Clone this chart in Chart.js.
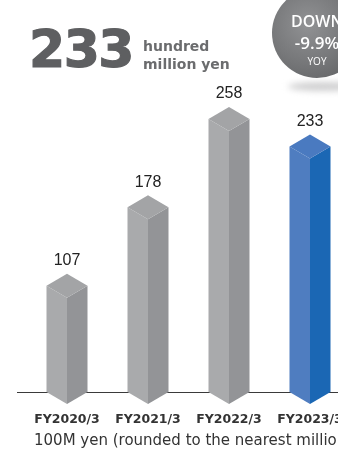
<!DOCTYPE html>
<html>
<head>
<meta charset="utf-8">
<script src="https://cdn.jsdelivr.net/npm/chart.js@4.4.0/dist/chart.umd.min.js"></script>
<style>
  html, body { margin: 0; padding: 0; background: #fff; }
  body { width: 338px; height: 452px; overflow: hidden; position: relative; }
  #wrap { position: absolute; left: 0; top: 0; width: 380px; height: 452px; }
  .big { position: absolute; left: 29px; top: 19px; font: bold 52px "DejaVu Sans", sans-serif; color: #5e5f61; letter-spacing: -1.5px; -webkit-text-stroke: 1.2px #5e5f61; }
  .unit { position: absolute; left: 143px; top: 37px; font: bold 14px "DejaVu Sans", sans-serif; color: #6b6c6e; line-height: 18px; }
  .badge { position: absolute; left: 272px; top: -12px; width: 90px; height: 90px; border-radius: 50%;
    background: radial-gradient(circle at 40% 40%, #919294 0%, #77787a 50%, #5a5b5d 100%); color: #fff; }
  .badge div { position: absolute; left: 0; width: 90px; text-align: center; font-family: "Open Sans", sans-serif; font-weight: 600; }
  .shadow { position: absolute; left: 288px; top: 82px; width: 70px; height: 9px; border-radius: 50%; background: #d0d0d1; filter: blur(3px); }
  .note { position: absolute; left: 34px; top: 431px; white-space: nowrap; font: 15px "DejaVu Sans", sans-serif; color: #333; }
</style>
</head>
<body>
<div id="wrap"><canvas id="chart" width="380" height="452"></canvas></div>
<div class="big">233</div>
<div class="unit">hundred<br>million yen</div>
<div class="shadow"></div>
<div class="badge">
  <div style="top:22px;font-size:16px;">DOWN</div>
  <div style="top:43px;font-size:17px;">-9.9%</div>
  <div style="top:66px;font-size:10px;font-weight:400;">YOY</div>
</div>
<div class="note">100M yen (rounded to the nearest million yen)</div>
<script>
const categories = ['FY2020/3', 'FY2021/3', 'FY2022/3', 'FY2023/3'];
const sales = [107, 178, 258, 233];

const grayFaces = { top: '#a3a4a6', left: '#a9aaac', right: '#939497' };
const blueFaces = { top: '#4a7ac0', left: '#4f7dc0', right: '#1b67b4' };

function poly(ctx, pts, color) {
    ctx.beginPath();
    ctx.moveTo(pts[0][0], pts[0][1]);
    for (let i = 1; i < pts.length; i++) ctx.lineTo(pts[i][0], pts[i][1]);
    ctx.closePath();
    ctx.fillStyle = color;
    ctx.fill();
}

// baseline behind the bars, then the 3D prisms and value labels
const prismPlugin = {
    id: 'prisms',
    beforeDatasetsDraw(chart) {
        const ctx = chart.ctx;
        const y = chart.chartArea.bottom;
        ctx.save();
        ctx.strokeStyle = '#3a3a3a';
        ctx.lineWidth = 1.2;
        ctx.beginPath();
        ctx.moveTo(17, y + 0.5);
        ctx.lineTo(380, y + 0.5);
        ctx.stroke();
        ctx.restore();
    },
    afterDatasetsDraw(chart) {
        const ctx = chart.ctx;
        const meta = chart.getDatasetMeta(0);
        const d = 12;
        ctx.save();
        meta.data.forEach((bar, i) => {
            const cx = bar.x, top = bar.y, base = bar.base;
            const x0 = cx - bar.width / 2, x1 = cx + bar.width / 2;
            const c = i === sales.length - 1 ? blueFaces : grayFaces;
            poly(ctx, [[x0, top + d], [cx, top + 2 * d], [cx, base + d], [x0, base]], c.left);
            poly(ctx, [[cx, top + 2 * d], [x1, top + d], [x1, base], [cx, base + d]], c.right);
            poly(ctx, [[cx, top], [x1, top + d], [cx, top + 2 * d], [x0, top + d]], c.top);
            ctx.fillStyle = '#222';
            ctx.font = '16px "Liberation Sans", Arial, sans-serif';
            ctx.textAlign = 'center';
            ctx.textBaseline = 'middle';
            ctx.fillText(String(sales[i]), cx, top - 13);
        });
        ctx.restore();
    }
};

new Chart(document.getElementById('chart'), {
    type: 'bar',
    data: {
        labels: categories,
        datasets: [{
            data: sales,
            backgroundColor: 'rgba(0,0,0,0)',
            borderWidth: 0,
            barThickness: 41
        }]
    },
    options: {
        responsive: false,
        devicePixelRatio: 1,
        animation: false,
        layout: { padding: { left: 26.5, right: 29.5, top: 60.5, bottom: 0 } },
        plugins: { legend: { display: false }, tooltip: { enabled: false } },
        scales: {
            y: { display: false, min: 0, max: 300 },
            x: {
                grid: { display: false, drawTicks: false },
                border: { display: false },
                ticks: {
                    padding: 20,
                    color: '#333',
                    font: { family: 'DejaVu Sans', size: 12.5, weight: 'bold' }
                },
                afterFit(scale) { scale.height = 60; }
            }
        }
    },
    plugins: [prismPlugin]
});
</script>
</body>
</html>
